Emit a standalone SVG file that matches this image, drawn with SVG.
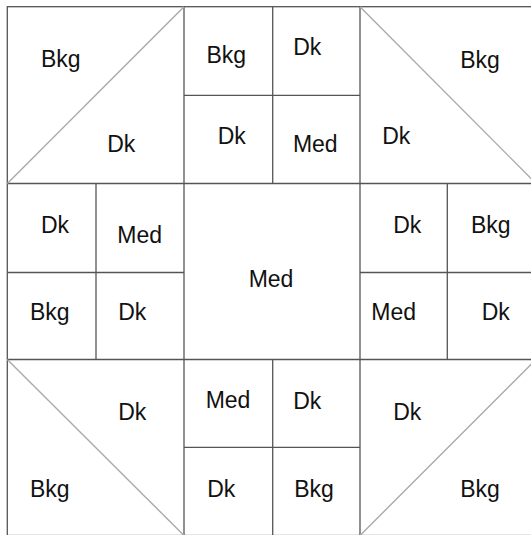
<svg xmlns="http://www.w3.org/2000/svg" width="531" height="535" viewBox="0 0 531 535">
<style>
.p{fill:#fff;stroke:none}
.g{stroke:#555;stroke-width:1.3;fill:none}
.d{stroke:#aaa;stroke-width:1.4;fill:none}
text{font-family:"Liberation Sans",Arial,sans-serif;font-size:23px;fill:#111;text-anchor:middle}
</style>
<rect width="531" height="535" fill="#fff"/>
<g id="tl-bkg"><polygon class="p" points="7.3,6.7 184,6.7 7.3,183.5"/><text x="60.7" y="66.7">Bkg</text></g>
<g id="tl-dk"><polygon class="p" points="184,6.7 184,183.5 7.3,183.5"/><text x="121.3" y="151.7">Dk</text></g>
<g id="tc-bkg"><rect class="p" x="184" y="6.7" width="88.7" height="88.6"/><text x="226.3" y="63.3">Bkg</text></g>
<g id="tc-dk1"><rect class="p" x="272.7" y="6.7" width="87.3" height="88.6"/><text x="307.3" y="55">Dk</text></g>
<g id="tc-dk2"><rect class="p" x="184" y="95.3" width="88.7" height="88.2"/><text x="231.7" y="144">Dk</text></g>
<g id="tc-med"><rect class="p" x="272.7" y="95.3" width="87.3" height="88.2"/><text x="315.3" y="151.7">Med</text></g>
<g id="tr-dk"><polygon class="p" points="360,6.7 536,183.5 360,183.5"/><text x="396.3" y="144.3">Dk</text></g>
<g id="tr-bkg"><polygon class="p" points="360,6.7 536,6.7 536,183.5"/><text x="480" y="68.3">Bkg</text></g>
<g id="ml-dk1"><rect class="p" x="7.3" y="183.5" width="88.7" height="89"/><text x="55" y="232.7">Dk</text></g>
<g id="ml-med"><rect class="p" x="96" y="183.5" width="88" height="89"/><text x="139.7" y="243.3">Med</text></g>
<g id="ml-bkg"><rect class="p" x="7.3" y="272.5" width="88.7" height="87"/><text x="49.7" y="320">Bkg</text></g>
<g id="ml-dk2"><rect class="p" x="96" y="272.5" width="88" height="87"/><text x="132.3" y="320">Dk</text></g>
<g id="center-med"><rect class="p" x="184" y="183.5" width="176" height="176"/><text x="271" y="287.3">Med</text></g>
<g id="mr-dk1"><rect class="p" x="360" y="183.5" width="87.3" height="89"/><text x="407.3" y="232.7">Dk</text></g>
<g id="mr-bkg"><rect class="p" x="447.3" y="183.5" width="88.7" height="89"/><text x="490.7" y="232.7">Bkg</text></g>
<g id="mr-med"><rect class="p" x="360" y="272.5" width="87.3" height="87"/><text x="393.7" y="320">Med</text></g>
<g id="mr-dk2"><rect class="p" x="447.3" y="272.5" width="88.7" height="87"/><text x="495.7" y="320">Dk</text></g>
<g id="bl-dk"><polygon class="p" points="7.3,359.5 184,359.5 184,535.5"/><text x="132.3" y="420">Dk</text></g>
<g id="bl-bkg"><polygon class="p" points="7.3,359.5 184,535.5 7.3,535.5"/><text x="49.7" y="496.7">Bkg</text></g>
<g id="bc-med"><rect class="p" x="184" y="359.5" width="88.7" height="87.8"/><text x="228" y="408.3">Med</text></g>
<g id="bc-dk1"><rect class="p" x="272.7" y="359.5" width="87.3" height="87.8"/><text x="307.3" y="409">Dk</text></g>
<g id="bc-dk2"><rect class="p" x="184" y="447.3" width="88.7" height="88.2"/><text x="221.3" y="496.7">Dk</text></g>
<g id="bc-bkg"><rect class="p" x="272.7" y="447.3" width="87.3" height="88.2"/><text x="314" y="496.7">Bkg</text></g>
<g id="br-dk"><polygon class="p" points="360,359.5 536,359.5 360,535.5"/><text x="407.3" y="420">Dk</text></g>
<g id="br-bkg"><polygon class="p" points="536,359.5 536,535.5 360,535.5"/><text x="480" y="496.7">Bkg</text></g>
<g id="seams">
<rect class="g" x="7.3" y="6.7" width="528.7" height="528.8"/>
<line class="g" x1="184" y1="6.7" x2="184" y2="535.5"/>
<line class="g" x1="360" y1="6.7" x2="360" y2="535.5"/>
<line class="g" x1="7.3" y1="183.5" x2="536" y2="183.5"/>
<line class="g" x1="7.3" y1="359.5" x2="536" y2="359.5"/>
<line class="g" x1="272.7" y1="6.7" x2="272.7" y2="183.5"/>
<line class="g" x1="184" y1="95.3" x2="360" y2="95.3"/>
<line class="g" x1="96" y1="183.5" x2="96" y2="359.5"/>
<line class="g" x1="447.3" y1="183.5" x2="447.3" y2="359.5"/>
<line class="g" x1="7.3" y1="272.5" x2="184" y2="272.5"/>
<line class="g" x1="360" y1="272.5" x2="536" y2="272.5"/>
<line class="g" x1="272.7" y1="359.5" x2="272.7" y2="535.5"/>
<line class="g" x1="184" y1="447.3" x2="360" y2="447.3"/>
<line class="d" x1="7.3" y1="183.5" x2="184" y2="6.7"/>
<line class="d" x1="360" y1="6.7" x2="536" y2="183.5"/>
<line class="d" x1="7.3" y1="359.5" x2="184" y2="535.5"/>
<line class="d" x1="360" y1="535.5" x2="536" y2="359.5"/>
</g>
</svg>
